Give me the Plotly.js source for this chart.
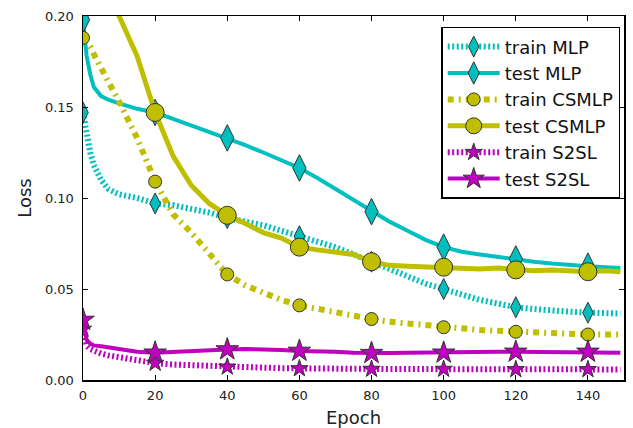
<!DOCTYPE html>
<html><head><meta charset="utf-8">
<script src="https://cdn.plot.ly/plotly-3.0.1.min.js"></script>
<style>html,body{margin:0;padding:0;background:#fff}#chart{width:633px;height:428px}</style>
</head><body><div id="chart"></div>
<script>
const epochs = [0,1,2,3,5,7,10,15,20,25,30,35,40,45,50,55,60,65,70,75,80,85,90,95,100,105,110,115,120,125,130,135,140,145,149];
const trainMLP   = [0.147,0.135,0.125,0.118,0.110,0.105,0.102,0.100,0.097,0.096,0.094,0.092,0.089,0.087,0.085,0.082,0.079,0.076,0.073,0.069,0.065,0.061,0.057,0.053,0.050,0.047,0.044,0.042,0.040,0.039,0.038,0.0375,0.037,0.037,0.0365];
const testMLP    = [0.198,0.178,0.168,0.161,0.156,0.154,0.152,0.149,0.147,0.1435,0.140,0.1365,0.133,0.129,0.125,0.121,0.1165,0.111,0.105,0.099,0.0925,0.087,0.082,0.077,0.073,0.0705,0.069,0.0675,0.0665,0.065,0.064,0.063,0.0625,0.062,0.0615];
const trainCSMLP = [0.188,0.186,0.183,0.179,0.171,0.164,0.153,0.133,0.109,0.091,0.081,0.070,0.058,0.052,0.048,0.044,0.041,0.039,0.037,0.035,0.0335,0.032,0.031,0.030,0.029,0.028,0.0275,0.027,0.0265,0.026,0.0255,0.025,0.025,0.025,0.025];
const testCSMLP  = [0.240,0.236,0.232,0.228,0.220,0.212,0.200,0.178,0.147,0.123,0.107,0.097,0.0905,0.086,0.081,0.078,0.073,0.0715,0.070,0.069,0.065,0.063,0.0625,0.062,0.062,0.0615,0.061,0.0615,0.0605,0.060,0.0605,0.060,0.0595,0.060,0.0595];
const trainS2SL  = [0.028,0.019,0.017,0.016,0.0145,0.0135,0.0125,0.0105,0.0093,0.0085,0.008,0.0075,0.0072,0.007,0.0068,0.0065,0.0063,0.0062,0.0061,0.006,0.006,0.006,0.006,0.006,0.006,0.0059,0.0058,0.0058,0.0058,0.0058,0.0058,0.0058,0.0058,0.0058,0.0058];
const testS2SL   = [0.033,0.022,0.020,0.019,0.0185,0.018,0.017,0.0155,0.015,0.0155,0.016,0.0168,0.0168,0.017,0.017,0.0165,0.016,0.016,0.0155,0.015,0.0148,0.0148,0.015,0.0152,0.015,0.0152,0.0155,0.0155,0.0155,0.0155,0.0152,0.0155,0.0155,0.015,0.015];
const seriesNames = ['train MLP','test MLP','train CSMLP','test CSMLP','train S2SL','test S2SL'];
const seriesData = [trainMLP, testMLP, trainCSMLP, testCSMLP, trainS2SL, testS2SL];
const xTicks = [0,20,40,60,80,100,120,140];
const markerEvery = 20;

const cyan = '#00BFBF', olive = '#BFBF00', mag = '#BF00BF';
const styles = [
  {color:cyan,  width:6, dash:'2px,2.5px',           symbol:'diamond-tall', size:15},
  {color:cyan,  width:4, dash:'solid',               symbol:'diamond-tall', size:19},
  {color:olive, width:6, dash:'6px,5px,2px,5px',     symbol:'circle',       size:13},
  {color:olive, width:5, dash:'solid',               symbol:'circle',       size:18},
  {color:mag,   width:6, dash:'2px,2.5px',           symbol:'star',         size:13},
  {color:mag,   width:4, dash:'solid',               symbol:'star',         size:17}
];

const traces = [];
const legendTraces = [];
seriesData.forEach((ys, i) => {
  const s = styles[i];
  const mx = [], my = [];
  epochs.forEach((e, k) => { if (e % markerEvery === 0) { mx.push(e); my.push(ys[k]); } });
  const marker = {symbol:s.symbol, size:s.size, color:s.color, line:{color:'#333', width:1}};
  traces.push({x:epochs, y:ys, mode:'lines', line:{color:s.color, width:s.width, dash:s.dash},
    showlegend:false, hoverinfo:'skip'});
  traces.push({x:mx, y:my, mode:'markers', marker:marker, showlegend:false});
  legendTraces.push({x:[null], y:[null], mode:'lines+markers', name:seriesNames[i],
    line:{color:s.color, width:s.width, dash:s.dash}, marker:marker});
});

const font = {family:'DejaVu Sans', color:'#222'};
const layout = {
  width:633, height:428,
  margin:{l:83, r:9, t:16, b:48},
  paper_bgcolor:'#fff', plot_bgcolor:'#fff',
  font:font,
  xaxis:{range:[0,150], tickvals:xTicks, ticks:'inside', ticklen:5, tickcolor:'#000', mirror:'allticks',
    showline:true, linecolor:'#000', linewidth:1.5, showgrid:false, zeroline:false,
    tickfont:{size:13, family:'DejaVu Sans', color:'#222'}, ticklabelstandoff:3,
    title:{text:'Epoch', font:{size:18, family:'DejaVu Sans', color:'#222'}, standoff:9}},
  yaxis:{range:[0,0.2], dtick:0.05, tickformat:'.2f', ticks:'inside', ticklen:5, tickcolor:'#000', mirror:'allticks',
    showline:true, linecolor:'#000', linewidth:1.5, showgrid:false, zeroline:false,
    tickfont:{size:13, family:'DejaVu Sans', color:'#222'}, ticklabelstandoff:5,
    title:{text:'Loss', font:{size:18, family:'DejaVu Sans', color:'#222'}, standoff:8}},
  legend:{x:0.993, xanchor:'right', y:0.97, yanchor:'top', bgcolor:'#fff', bordercolor:'#000', borderwidth:1.5,
    font:{size:18, family:'DejaVu Sans', color:'#111'}, tracegroupgap:0, itemwidth:52}
};

Plotly.newPlot('chart', traces.concat(legendTraces), layout, {displayModeBar:false, staticPlot:true});
</script>
</body></html>
